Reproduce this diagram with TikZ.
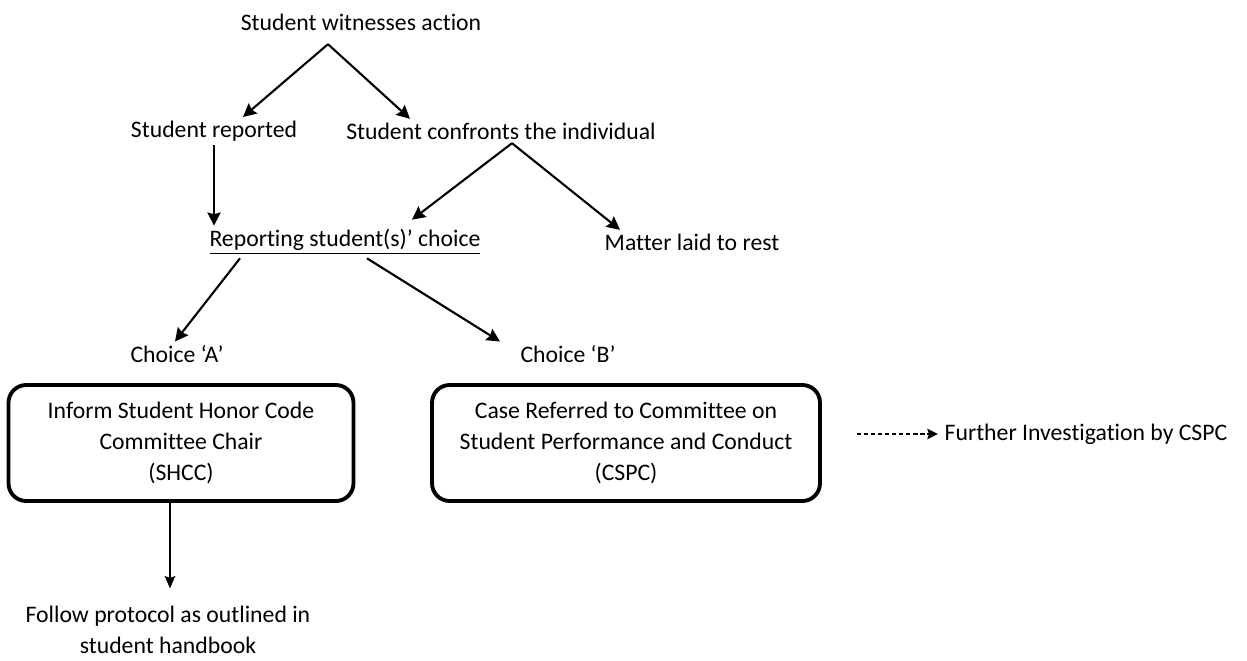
\documentclass[tikz,border=0pt]{standalone}
\usepackage{fontspec}
\setmainfont{Carlito}[Ligatures={NoCommon}]
\usepackage{tikz}
\usetikzlibrary{arrows.meta, calc}

\begin{document}
\begin{tikzpicture}[x=0.02cm, y=-0.02cm,
      entry/.style={inner sep=2pt, align=center, font=\fontsize{13.5}{17.6}\selectfont},
      panel/.style={rounded corners=10pt, draw=black, line width=2.2pt, minimum height=2.32cm,
      align=center, font=\fontsize{13.5}{17.6}\selectfont},
      arrow/.style={-{Stealth[length=7.5pt, width=7.5pt, inset=1pt]}, line width=1.2pt},
      thinarrow/.style={-{Stealth[length=7pt, width=6pt, inset=1pt]}, line width=0.7pt},
      dasharrow/.style={-{Stealth[length=6pt, width=6pt, inset=1pt]}, line width=0.8pt, dash pattern=on 2.5pt off 1.5pt}
    ]
    \useasboundingbox (0,0) rectangle (1247,660);
    \node[entry] (wit) at (361,22) {Student witnesses action};
    \node[entry] (rep) at (214,131) {Student reported};
    \node[entry] (conf) at (501,131) {Student confronts the individual};
    \node[entry] (choice) at (345,242) {\underline{Reporting student(s)’ choice}};
    \node[entry] (rest) at (692,242) {Matter laid to rest};
    \node[entry] (chA) at (177,354) {Choice ‘A’};
    \node[entry] (chB) at (568,354) {Choice ‘B’};
    \node[panel, minimum width=6.9cm] (boxA) at (181,443) {Inform Student Honor Code\\Committee Chair\\(SHCC)};
    \node[panel, minimum width=7.76cm] (boxB) at (626,443) {Case Referred to Committee on\\Student Performance and Conduct\\(CSPC)};
    \node[entry] (further) at (1086,434) {Further Investigation by CSPC};
    \node[entry] (follow) at (168,630) {Follow protocol as outlined in\\student handbook};

    \coordinate (split1) at ($(wit.south)+(-33,10)$);
    \coordinate (split2) at ($(conf.south)+(11,0)$);

    \draw[arrow] (split1) -- ($(rep.north)+(29,0)$);
    \draw[arrow] (split1) -- ($(conf.north)+(-91,0)$);
    \draw[arrow] (rep.south) -- (rep.south |- choice.north);
    \draw[arrow] (split2) -- ($(choice.north)+(67,-6)$);
    \draw[arrow] (split2) -- ($(rest.north)+(-72,0)$);
    \draw[arrow] ($(choice.south)+(-105,0)$) -- ($(chA.north)+(-2,0)$);
    \draw[arrow] ($(choice.south)+(22,0)$) -- ($(chB.north)+(-68,0)$);
    \draw[thinarrow] ($(boxA.south)+(-11,0)$) -- ($(follow.north)+(2,-14)$);
    \draw[dasharrow] ($(boxB.east)+(35,-9)$) -- ($(further.west)+(-3,0)$);
  \end{tikzpicture}
\end{document}
